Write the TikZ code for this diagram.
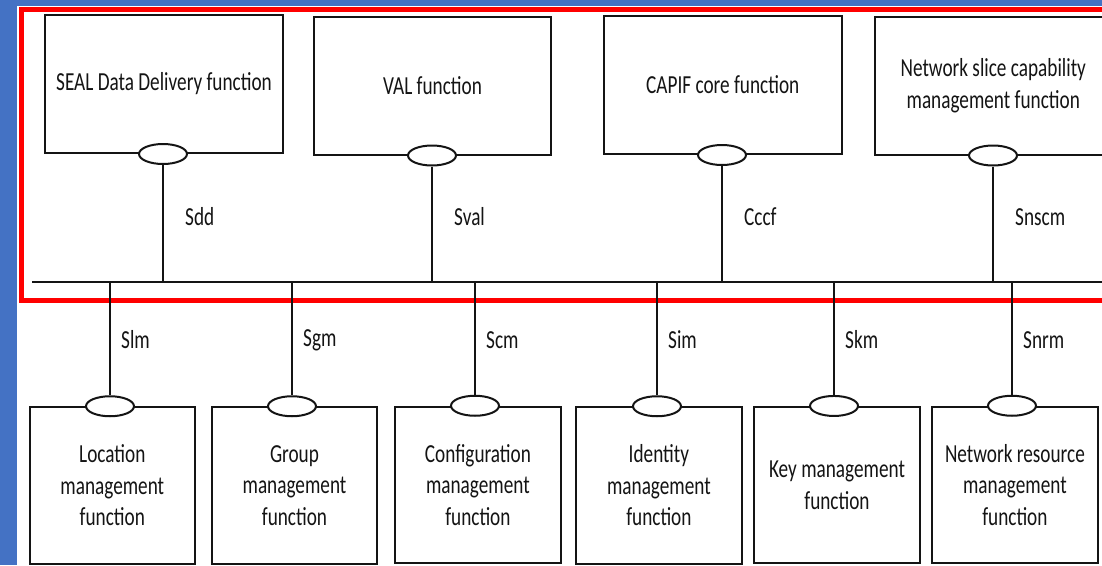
\documentclass[tikz,border=0pt]{standalone}
\usepackage{fontspec}
\setmainfont{Carlito}[FakeStretch=0.74]
\usetikzlibrary{shapes.geometric}
\definecolor{slideblue}{RGB}{68,114,196}
\definecolor{ink}{RGB}{20,20,20}
\newcommand\lblfont{\fontsize{26}{31.5}\selectfont}

\begin{document}
\begin{tikzpicture}[x=1pt,y=-1pt,
  line/.style={draw=ink, line width=2pt},
  topbox/.style={line, rectangle, inner sep=0pt, minimum width=237.5pt,
    minimum height=138pt, align=center, font=\lblfont, text=ink},
  botbox/.style={line, rectangle, inner sep=0pt, minimum width=165.5pt,
    minimum height=156.5pt, align=center, font=\lblfont, text=ink},
  port/.style={line, ellipse, fill=white, inner sep=0pt,
    minimum width=48pt, minimum height=20pt},
  iface/.style={anchor=west, inner sep=0pt, font=\lblfont, text=ink}]
\useasboundingbox (0,0) rectangle (1102,565);
\clip (0,0) rectangle (1102,565);

% backdrop and highlighted area
\fill[slideblue] (0,0) rectangle (1102,565);
\fill[white] (17,6) rectangle (1102,565);
\draw[red, line width=5pt] (21,9.5) rectangle (1130,300.5);

% upper functions
\node[topbox] (sdd)  at (164,84)     {SEAL Data Delivery function};
\node[topbox] (val)  at (432.5,85.5) {VAL function};
\node[topbox] (ccf)  at (722.75,85)  {CAPIF core function};
\node[topbox] (nscm) at (993.25,85.5) {Network slice capability\\management function};

% lower functions
\node[botbox] (lm) at (112.3,485.5) {Location\\management\\function};
\node[botbox] (gm) at (294.5,485.5) {Group\\management\\function};
\node[botbox] (cm) at (477.9,485)   {Configuration\\management\\function};
\node[botbox] (im) at (658.9,485.5) {Identity\\management\\function};
\node[botbox, minimum width=166pt] (km) at (837,485.2) {Key management\\function};
\node[botbox] (nrm) at (1014.9,485) {Network resource\\management\\function};

% bus
\coordinate (busL) at (32,281.5);
\coordinate (busR) at (1102,281.5);
\draw[line] (busL) -- (busR);

% interfaces of the upper functions
\foreach \b/\x/\lab in {sdd/163/Sdd, val/432/Sval, ccf/722/Cccf, nscm/993/Snscm}{
  \node[port] (p-\b) at (\x,0 |- \b.south) {};
  \coordinate (t-\b) at (\x,281.5);
  \draw[line] (p-\b.south) -- (t-\b);
  \node[iface] (l-\b) at (\x+22,217) {\lab};
}

% interfaces of the lower functions
\foreach \b/\x/\lab in {lm/110/Slm, gm/292/Sgm, cm/475/Scm, im/657/Sim, km/834/Skm, nrm/1012/Snrm}{
  \node[port] (p-\b) at (\x,0 |- \b.north) {};
  \coordinate (t-\b) at (\x,281.5);
  \draw[line] (t-\b) -- (p-\b.north);
  \node[iface] (l-\b) at (\x+11,340) {\lab};
}
\end{tikzpicture}
\end{document}
